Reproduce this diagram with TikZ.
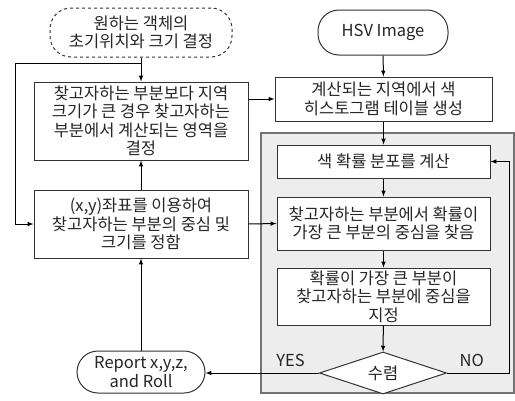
\documentclass[tikz,border=0pt]{standalone}
\usepackage{fontspec}
\newfontfamily\kor{Noto Sans CJK JP}
\usepackage{tikz}
\usetikzlibrary{backgrounds,shapes.geometric}

\begin{document}
\begin{tikzpicture}[x=1pt,y=-1pt,line width=1pt,>=latex]
        %
        % `process' is used for the plain boxes.
        % `terminal' is used for the round-ended start/end boxes.
        % `surround' is used for the grey loop region.
        \tikzstyle{every node} = [font=\kor\fontsize{16.5}{18.5}\selectfont,text=black!85]
        \tikzstyle{process} = [draw=black!80,fill=white,align=center,inner sep=1pt]
        \tikzstyle{terminal} = [draw=black!80,fill=white,rounded corners=21pt,align=center,inner sep=1pt]
        \tikzstyle{decision} = [draw=black!80,fill=white,diamond,aspect=3,inner sep=0pt]
        \tikzstyle{surround} = [fill=black!7,draw=black!55,line width=1.2pt]
        %
        \useasboundingbox (0,0) rectangle (515,400);
        %
        % Left column
        \node[terminal,dashed,minimum width=182pt,minimum height=49pt] (init) at (141,32.5)
        {원하는 객체의\\초기위치와 크기 결정};
        \node[process,minimum width=214pt,minimum height=78pt] (area) at (141,121)
        {찾고자하는 부분보다 지역\\크기가 큰 경우 찾고자하는\\부분에서 계산되는 영역을\\결정};
        \node[process,minimum width=214pt,minimum height=68pt] (match) at (141,224)
        {(x,y)좌표를 이용하여\\찾고자하는 부분의 중심 및\\크기를 정함};
        \node[terminal,minimum width=128pt,minimum height=42pt] (report) at (141,372)
        {Report x,y,z,\\and Roll};
        %
        % Right column
        \node[terminal,minimum width=130pt,minimum height=45pt] (hsv) at (383,32.5) {HSV Image};
        \node[process,minimum width=217pt,minimum height=44pt] (hist) at (383.5,99)
        {계산되는 지역에서 색\\히스토그램 테이블 생성};
        \node[process,minimum width=213pt,minimum height=33pt] (prob) at (383.5,161.5)
        {색 확률 분포를 계산};
        \node[process,minimum width=213pt,minimum height=53pt] (peak) at (383.5,223.5)
        {찾고자하는 부분에서 확률이\\가장 큰 부분의 중심을 찾음};
        \node[process,minimum width=213pt,minimum height=57pt] (centre) at (383.5,296.5)
        {확률이 가장 큰 부분이\\찾고자하는 부분에 중심을\\지정};
        \node[decision,minimum width=127pt,minimum height=42pt] (conv) at (383,373) {수렴};
        %
        % Corners of the wires
        \coordinate (split) at (141,63);
        \coordinate (leftbend) at (15,63);
        \coordinate (nobend) at (509,373);
        %
        % Wires
        \draw[->] (init) -- (area);
        \draw[->] (split) -- (leftbend) |- (match.west);
        \draw[->] (match) -- (area);
        \draw[->] (report) -- (match);
        \draw[->] (area.east |- hist.west) -- (hist.west);
        \draw[->] (match.east) -- (peak.west);
        \draw[->] (hsv) -- (hist);
        \draw[->] (hist) -- (prob);
        \draw[->] (prob) -- (peak);
        \draw[->] (peak) -- (centre);
        \draw[->] (centre) -- (conv);
        \draw[->] (conv.west) -- node[pos=0.25,above=2pt] {YES} (conv.west -| report.east);
        \draw[->] (conv.east) -- node[pos=0.4,above=2pt] {NO} (nobend) |- (prob.east);
        %
        % Background Box
        \begin{pgfonlayer}{background}
        \draw[surround] (261,133) rectangle (514,393);
        \end{pgfonlayer}
        %
\end{tikzpicture}
\end{document}
